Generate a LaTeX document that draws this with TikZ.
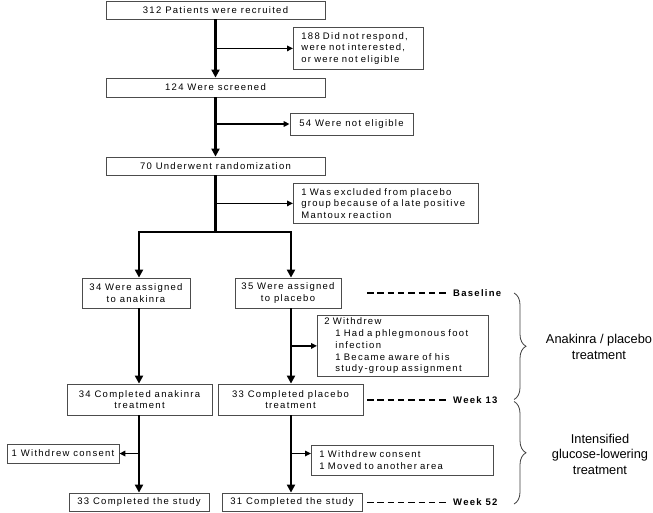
\documentclass[tikz,border=0pt]{standalone}
\usepackage{fontspec}
\setmainfont{Liberation Sans}
\newfontfamily\boxfont[LetterSpace=13.5]{Liberation Sans}
\usetikzlibrary{arrows.meta,decorations.pathreplacing}
\begin{document}
\begin{tikzpicture}[x=1pt,y=-1pt,
  box/.style={draw=black!70, line width=0.8pt, inner sep=0pt, align=center,
    font=\boxfont\fontsize{9.5}{11.8}\selectfont},
  lbox/.style={box, align=left, inner xsep=8pt},
  main/.style={line width=2.6pt},
  mainarrow/.style={main, -{Triangle[length=8pt,width=8pt]}},
  side/.style={line width=1.8pt, -{Triangle[length=6pt,width=5.5pt]}},
  dashline/.style={line width=1.2pt, dash pattern=on 6.5pt off 3.8pt},
  wk/.style={inner sep=0pt, font=\boxfont\bfseries\fontsize{9.5}{12}\selectfont},
  lab/.style={inner sep=0pt, align=center, font=\fontsize{12.8}{15.5}\selectfont},
  bracestyle/.style={draw=black!75, line width=0.8pt, decorate, decoration={brace, amplitude=12pt}}
]
\fill[white] (0,0) rectangle (653,512);
\useasboundingbox (0,0) rectangle (653,512);

% boxes
\node[box, minimum width=219pt, minimum height=18pt] (A) at (215.5,10) {312 Patients were recruited};
\node[lbox, anchor=north west, text width=114pt, minimum height=42pt] (B) at (293,27) {188 Did not respond,\\were not interested,\\or were not eligible};
\node[box, minimum width=219pt, minimum height=19pt] (C) at (215.5,87.5) {124 Were screened};
\node[box, minimum width=123pt, minimum height=22pt] (D) at (351.5,124) {54 Were not eligible};
\node[box, minimum width=219pt, minimum height=18pt] (E) at (215.5,166) {70 Underwent randomization};
\node[lbox, anchor=north west, text width=169pt, minimum height=40pt] (F) at (293,183) {1 Was excluded from placebo\\group because of a late positive\\Mantoux reaction};
\node[box, minimum width=108pt, minimum height=30pt] (G) at (136,293) {34 Were assigned\\to anakinra};
\node[box, minimum width=106pt, minimum height=30pt] (H) at (288,293) {35 Were assigned\\to placebo};
\node[lbox, anchor=north west, inner xsep=7pt, text width=157pt, minimum height=61pt] (I) at (317,315) {2 Withdrew\\\hspace*{11pt}1 Had a phlegmonous foot\\\hspace*{11pt}infection\\\hspace*{11pt}1 Became aware of his\\\hspace*{11pt}study-group assignment};
\node[box, minimum width=145pt, minimum height=31pt] (J) at (139.5,399.5) {34 Completed anakinra\\treatment};
\node[box, minimum width=145pt, minimum height=31pt] (K) at (290.5,399.5) {33 Completed placebo\\treatment};
\node[box, minimum width=112pt, minimum height=19pt] (L) at (63,453.5) {1 Withdrew consent};
\node[lbox, anchor=north west, text width=166pt, minimum height=30pt] (M) at (311,445) {1 Withdrew consent\\1 Moved to another area};
\node[box, minimum width=140pt, minimum height=18pt] (N) at (139,502) {33 Completed the study};
\node[box, minimum width=140pt, minimum height=18pt] (O) at (292,502) {31 Completed the study};

% connectors
\draw[mainarrow] (A.south) -- (C.north);
\draw[side] (A.south |- B.west) -- (B.west);
\draw[mainarrow] (C.south) -- (E.north);
\draw[side] (C.south |- D.west) -- (D.west);
\coordinate (sp) at (215.5,232);
\coordinate (spL) at (139,232);
\coordinate (spR) at (291,232);
\draw[main] (E.south) -- (sp);
\draw[side] (E.south |- F.west) -- (F.west);
\draw[main, {Triangle[length=8pt,width=8pt]}-{Triangle[length=8pt,width=8pt]}] (spL |- G.north) -- (spL) -- (spR) -- (spR |- H.north);
\draw[mainarrow] (spL |- G.south) -- (spL |- J.north);
\draw[mainarrow] (spR |- H.south) -- (spR |- K.north);
\draw[side] (spR |- I.west) -- (I.west);
\draw[mainarrow] (spL |- J.south) -- (spL |- N.north);
\draw[side] (spL |- L.east) -- (L.east);
\draw[mainarrow] (spR |- K.south) -- (spR |- O.north);
\draw[side] (spR |- L.east) -- (M.west |- L.east);

% time points
\node[wk, anchor=west] (w0) at (453,293) {Baseline};
\node[wk, anchor=west] (w1) at (453,400) {Week 13};
\node[wk, anchor=west] (w2) at (453,502.5) {Week 52};
\coordinate (d0) at (367,293);
\coordinate (d1) at (367,400);
\coordinate (d2) at (367,502.5);
\draw[dashline] (d0) -- ([xshift=-6pt]w0.west);
\draw[dashline] (d1) -- ([xshift=-6pt]w1.west);
\draw[dashline] (d2) -- ([xshift=-6pt]w2.west);

% braces
\coordinate (b0) at (514,293);
\coordinate (b1) at (514,399.5);
\coordinate (b2) at (514,401.5);
\coordinate (b3) at (514,504);
\draw[bracestyle] (b0) -- (b1);
\draw[bracestyle] (b2) -- (b3);
\node[lab] (t1) at (599,347) {Anakinra / placebo\\treatment};
\node[lab] (t2) at (600,454) {Intensified\\glucose-lowering\\treatment};
\end{tikzpicture}
\end{document}
